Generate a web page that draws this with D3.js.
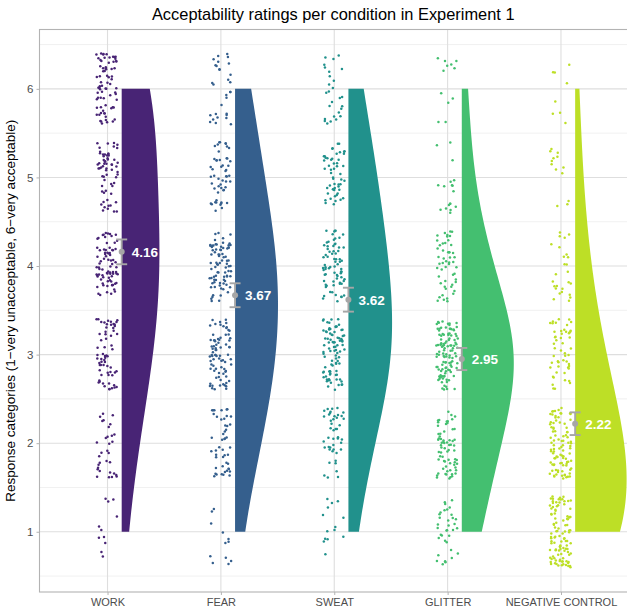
<!DOCTYPE html>
<html>
<head>
<meta charset="utf-8">
<script src="https://cdn.jsdelivr.net/npm/d3@7"></script>
<style>
  html, body { margin: 0; padding: 0; background: #fff; }
  svg { display: block; font-family: "Liberation Sans", Arial, sans-serif; }
  .tick text { fill: #4d4d4d; }
</style>
</head>
<body>
<svg id="chart" width="627" height="612"></svg>
<script>
// ---- data -------------------------------------------------------------
const conditions = ['WORK', 'FEAR', 'SWEAT', 'GLITTER', 'NEGATIVE CONTROL'];
const ratings    = [1, 2, 3, 4, 5, 6];
// number of responses per rating (1..6) for each condition
const countsWork    = [11, 32, 64, 80, 64, 74];
const countsFear    = [12, 48, 80, 82, 52, 30];
const countsSweat   = [14, 45, 90, 74, 53, 27];
const countsGlitter = [35, 68, 115, 52, 18, 12];
const countsNeg     = [106, 95, 52, 26, 13, 8];
const means   = [4.16, 3.67, 3.62, 2.95, 2.22];
const ciHalf  = [0.14, 0.135, 0.135, 0.125, 0.128];
const yTicks  = [1, 2, 3, 4, 5, 6];

const counts = [countsWork, countsFear, countsSweat, countsGlitter, countsNeg];
const colors = [0.1, 0.3, 0.5, 0.7, 0.9].map(d3.interpolateViridis);

// ---- layout ------------------------------------------------------------
const P = { left: 39.5, right: 629, top: 29.5, bottom: 592 };

const svg = d3.select('#chart');

const x = d3.scalePoint().domain(conditions).range([P.left, P.right]).padding(0.6);
const step = x.step();
const y = d3.scaleLinear().domain([0.32, 6.67]).range([P.bottom, P.top]);

// grid
const grid = svg.append('g');
grid.selectAll('line.minor').data(d3.range(0.5, 6.6, 1)).join('line')
  .attr('x1', P.left).attr('x2', P.right)
  .attr('y1', d => y(d)).attr('y2', d => y(d))
  .attr('stroke', '#e6e6e6').attr('stroke-width', 0.6);
grid.selectAll('line.major').data(yTicks).join('line')
  .attr('x1', P.left).attr('x2', P.right)
  .attr('y1', d => y(d)).attr('y2', d => y(d))
  .attr('stroke', '#dedede').attr('stroke-width', 1.1);
grid.selectAll('line.vx').data(conditions).join('line')
  .attr('x1', d => x(d)).attr('x2', d => x(d))
  .attr('y1', P.top).attr('y2', P.bottom)
  .attr('stroke', '#dedede').attr('stroke-width', 1.1);

// jitter positions only (fixed seed so the picture is stable)
function mulberry32(a){
  return function(){
    a |= 0; a = a + 0x6D2B79F5 | 0;
    let t = Math.imul(a ^ a >>> 15, 1 | a);
    t = t + Math.imul(t ^ t >>> 7, 61 | t) ^ t;
    return ((t ^ t >>> 14) >>> 0) / 4294967296;
  };
}
const rnd = mulberry32(20240607);

// KDE (gaussian, bw = 2 * 0.9 * sd * n^-0.2, trimmed to data range)
const bandwidth = values => 2 * 0.9 * d3.deviation(values) * Math.pow(values.length, -0.2);
const evalAt = d3.range(0, 201).map(i => 1 + i * 5 / 200);
const groups = conditions.map((c, gi) => {
  const vals = [];
  counts[gi].forEach((n, k) => { for (let i = 0; i < n; i++) vals.push(ratings[k]); });
  const bw = bandwidth(vals);
  const dens = evalAt.map(v => ({
    v,
    d: d3.sum(counts[gi], (n, k) => n * Math.exp(-0.5 * ((v - ratings[k]) / bw) ** 2)) /
       (vals.length * bw * Math.sqrt(2 * Math.PI))
  }));
  return { c, gi, vals, dens };
});
const maxDens = d3.max(groups, g => d3.max(g.dens, d => d.d));
const wScale = d3.scaleLinear().domain([0, maxDens]).range([0, 52]);
const off = 0.125 * step;

// jittered points
groups.forEach(g => {
  svg.append('g').selectAll('circle').data(g.vals).join('circle')
    .attr('cx', () => x(g.c) - 0.5 + (rnd() * 2 - 1) * 0.095 * step)
    .attr('cy', d => y(d + (rnd() * 2 - 1) * 0.4))
    .attr('r', 1.25)
    .attr('fill', colors[g.gi]);
});

// half violins
const area = d3.area().y(d => y(d.v));
svg.append('g').selectAll('path').data(groups).join('path')
  .attr('d', g => area.x0(x(g.c) + off).x1(d => x(g.c) + off + wScale(d.d))(g.dens))
  .attr('fill', g => colors[g.gi]);

// mean + CI
const err = svg.append('g').attr('stroke', '#a6a6a6').attr('stroke-width', 1.9);
conditions.forEach((c, i) => {
  const ex = x(c) + off;
  const lo = y(means[i] - ciHalf[i]), hi = y(means[i] + ciHalf[i]);
  err.append('line').attr('x1', ex).attr('x2', ex).attr('y1', lo).attr('y2', hi);
  err.append('line').attr('x1', ex - 5.5).attr('x2', ex + 5.5).attr('y1', lo).attr('y2', lo);
  err.append('line').attr('x1', ex - 5.5).attr('x2', ex + 5.5).attr('y1', hi).attr('y2', hi);
  svg.append('circle').attr('cx', ex).attr('cy', y(means[i])).attr('r', 3).attr('fill', '#a6a6a6');
  svg.append('text').attr('x', ex + 10).attr('y', y(means[i]))
    .attr('dy', '0.36em').attr('fill', '#fff').attr('font-weight', 'bold')
    .attr('font-size', 13.5).text(means[i].toFixed(2));
});

// panel border
svg.append('rect').attr('x', P.left).attr('y', P.top)
  .attr('width', P.right - P.left).attr('height', P.bottom - P.top)
  .attr('fill', 'none').attr('stroke', '#b3b3b3').attr('stroke-width', 1.1);

// axes
const yAxis = svg.append('g').attr('transform', `translate(${P.left},0)`)
  .call(d3.axisLeft(y).tickValues(yTicks).tickSize(3).tickPadding(3).tickFormat(d3.format('d')));
yAxis.select('.domain').remove();
yAxis.selectAll('.tick line').attr('stroke', '#b3b3b3');
yAxis.selectAll('.tick text').attr('font-size', 11.5).attr('font-family', null);

const xAxis = svg.append('g').attr('transform', `translate(0,${P.bottom})`)
  .call(d3.axisBottom(x).tickSize(3).tickPadding(3));
xAxis.select('.domain').remove();
xAxis.selectAll('.tick line').attr('stroke', '#b3b3b3');
xAxis.selectAll('.tick text').attr('font-size', 11).attr('font-family', null);

// titles
svg.append('text').attr('x', (P.left + P.right) / 2 - 1).attr('y', 20)
  .attr('text-anchor', 'middle').attr('font-size', 16.4).attr('fill', '#000')
  .text('Acceptability ratings per condition in Experiment 1');
svg.append('text')
  .attr('transform', `translate(15,${(P.top + P.bottom) / 2}) rotate(-90)`)
  .attr('text-anchor', 'middle').attr('font-size', 13.5).attr('fill', '#000')
  .text('Response categories (1\u2212very unacceptable, 6\u2212very acceptable)');
</script>
</body>
</html>
